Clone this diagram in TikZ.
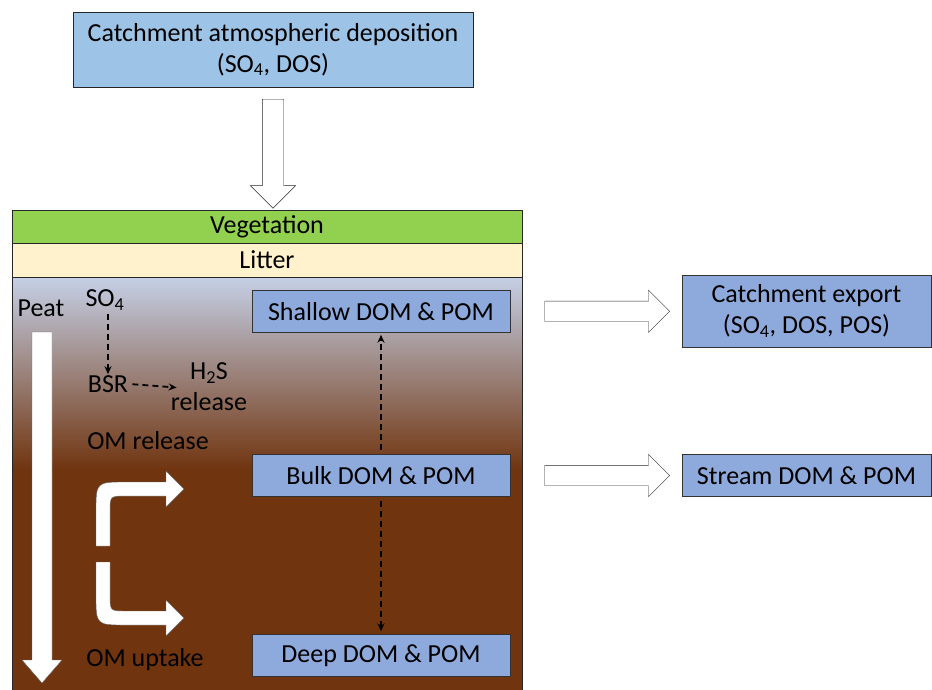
\documentclass[tikz,border=0pt]{standalone}
\usepackage{fontspec}
\setmainfont{Carlito}
\usetikzlibrary{arrows,arrows.meta,shapes.arrows,positioning,calc}
\definecolor{depblue}{HTML}{9DC3E6}
\definecolor{poolblue}{HTML}{8EA9DB}
\definecolor{veggreen}{HTML}{92D050}
\definecolor{litterbeige}{HTML}{FFF2CC}
\definecolor{peattop}{HTML}{C5D0E6}
\definecolor{peatbrown}{HTML}{70340F}

\begin{document}
\begin{tikzpicture}[x=1pt,y=-1pt,>={Stealth[length=8pt,width=7pt]},semithick]
			\tikzstyle{every node}=[font=\fontsize{26}{31}\selectfont,text=black]
			\tikzstyle{pool}=[draw=black!80,thin,fill=poolblue,minimum width=258pt,minimum height=42pt,inner sep=0pt,align=center]
			\tikzstyle{layer}=[draw=black!85,thick,minimum width=510pt,inner sep=0pt]
			\tikzstyle{txt}=[inner sep=1pt,align=center]
			\tikzstyle{flux}=[->,line width=1.8pt,dash pattern=on 6pt off 4pt]
			\tikzstyle{fat arrow}=[single arrow,draw=black!85,fill=white,thin,inner xsep=0pt,minimum width=0pt]
			\tikzstyle{white shape}=[draw=black!60,fill=white,thin]
			\useasboundingbox (0,0) rectangle (932,689);
			% soil column
			\fill[peatbrown] (12,277) rectangle (522,700);
			\shade[top color=peattop,bottom color=peatbrown] (12,277) rectangle (522,470);
			\node[layer,fill=veggreen,minimum height=33pt]    (veg)    at (267,226.5) {Vegetation};
			\node[layer,fill=litterbeige,minimum height=34pt] (litter) at (267,260)   {Litter};
			\draw[thick,black!85] (12,210) rectangle (522,700);
			% pools
			\node[draw=black!85,thin,fill=depblue,minimum width=400pt,minimum height=75pt,align=center] (dep) at (273,49.5) {Catchment atmospheric deposition\\(SO\textsubscript{4}, DOS)};
			\node[pool] (shallow) at (381,311.5) {Shallow DOM \& POM};
			\node[pool] (bulk)    at (381,475.5) {Bulk DOM \& POM};
			\node[pool] (deep)    at (381,655.5) {Deep DOM \& POM};
			\node[pool,minimum width=249pt,minimum height=72pt] (export) at (806.5,311)   {Catchment export\\(SO\textsubscript{4}, DOS, POS)};
			\node[pool,minimum width=249pt]                     (stream) at (806.5,475.5) {Stream DOM \& POM};
			% peat labels
			\node[txt] (peat)    at (41,308)  {Peat};
			\node[txt] (so4)     at (105,300) {SO\textsubscript{4}};
			\node[txt] (bsr)     at (108,384) {BSR};
			\node[txt] (h2s)     at (209,387) {H\textsubscript{2}S\\release};
			\node[txt] (omrel)   at (148,441) {OM release};
			\node[txt] (omupt)   at (145,660) {OM uptake};
			% fluxes
			\path
			(so4.south -| bsr) edge[flux,shorten <=2pt] (bsr.north)
			(bsr.east) edge[flux,shorten <=3pt,shorten >=-7pt] (h2s.west)
			(bulk.north) edge[flux,shorten <=4pt,shorten >=2pt] (shallow.south)
			(bulk.south) edge[flux,shorten <=4pt,shorten >=3pt] (deep.north);
			% block arrows
			\node[fat arrow,rotate=-90,inner ysep=10.5pt,single arrow head extend=12pt,minimum height=109pt] (a1) at ($(dep.south)!0.5!(veg.north -| dep.south)$) {};
			\node[fat arrow,inner ysep=10pt,single arrow head extend=11pt,minimum height=125pt] (a2) at ($(shallow.east -| veg.east)!0.5!(export.west)$) {};
			\node[fat arrow,inner ysep=10pt,single arrow head extend=11pt,minimum height=125pt] (a3) at ($(bulk.east -| veg.east)!0.5!(stream.west)$) {};
			% depth arrow
			\draw[white shape] (32,332) -- (52,332) -- (52,660) -- (62,660) -- (42,683) -- (22,660) -- (32,660) -- cycle;
			% OM release / uptake
			\draw[white shape] (96,546) -- (96,512) .. controls (96,482) .. (126,482) -- (166,482) -- (166,471) -- (184,489) -- (166,507) -- (166,496) -- (126,496) .. controls (110,496) .. (110,512) -- (110,546) -- cycle;
			\draw[white shape] (96,562) -- (96,595) .. controls (96,625) .. (126,625) -- (166,625) -- (166,636) -- (184,618) -- (166,600) -- (166,611) -- (126,611) .. controls (110,611) .. (110,595) -- (110,562) -- cycle;
		\end{tikzpicture}
\end{document}
